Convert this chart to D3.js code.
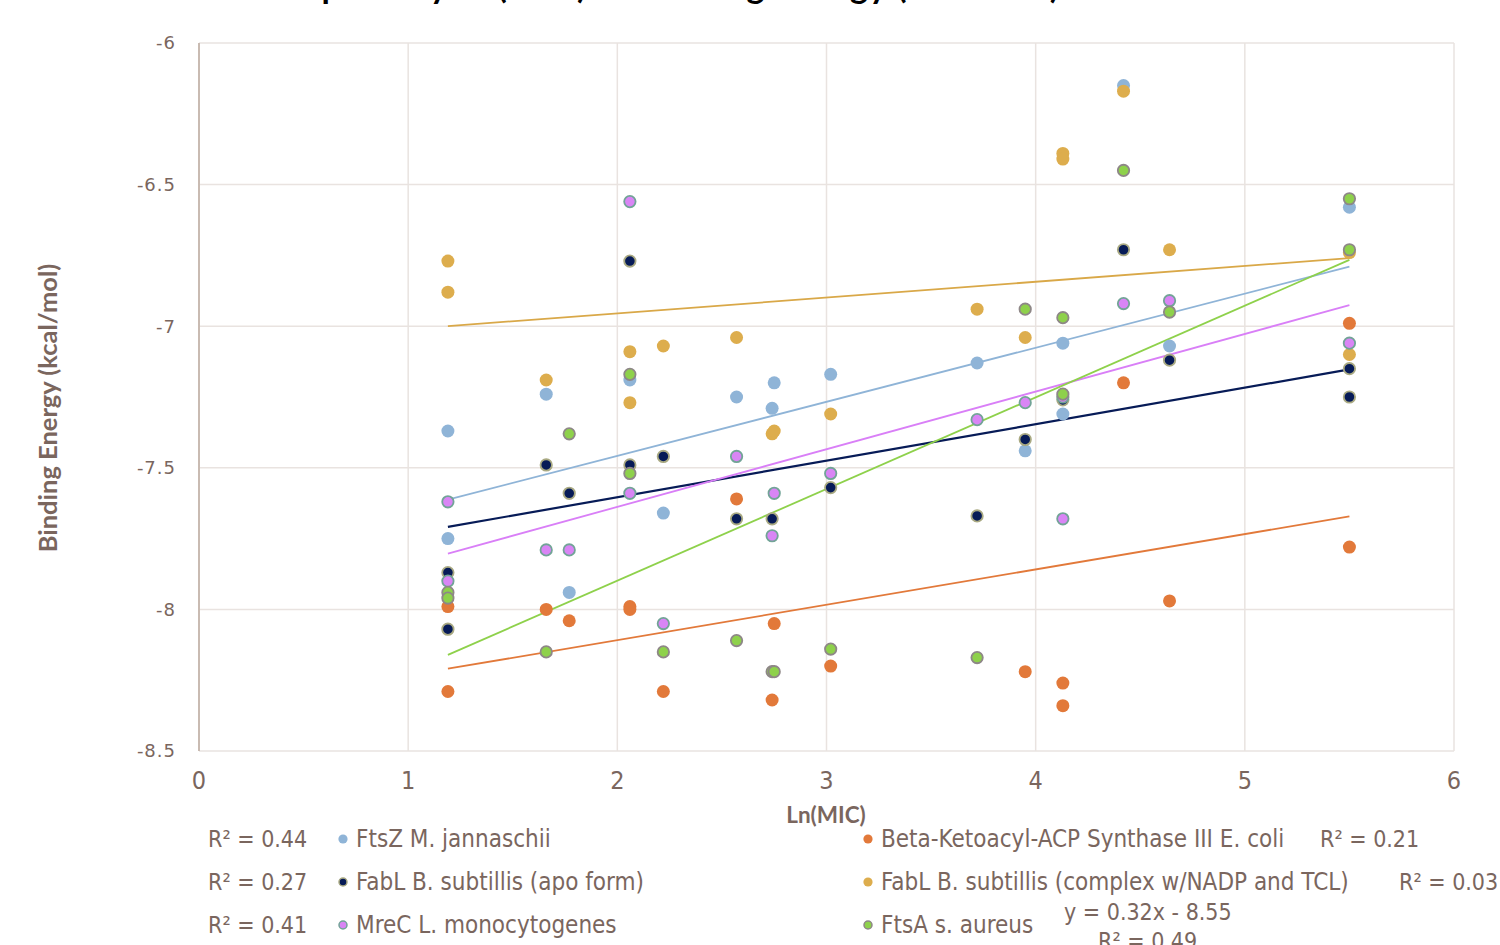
<!DOCTYPE html>
<html>
<head>
<meta charset="utf-8">
<script src="https://cdn.jsdelivr.net/npm/d3@7"></script>
<style>
  body { margin: 0; background: #fff; }
  svg { display: block; }
</style>
</head>
<body>
<div id="chart"></div>
<script>
// Ln(MIC) of each compound
const lnMIC = [1.19, 1.19, 1.66, 1.77, 2.06, 2.06, 2.22, 2.57, 2.74, 2.75, 3.02, 3.72, 3.95, 4.13, 4.13, 4.42, 4.64, 5.50, 5.50];

// binding energy (kcal/mol) per target, same order as lnMIC (null = point not visible)
const ftsZ      = [-7.37, -7.75, -7.24, -7.94, -7.19, null, -7.66, -7.25, -7.29, -7.20, -7.17, -7.13, -7.44, -7.06, -7.31, -6.15, -7.07, -6.58, null];
const betaKeto  = [-7.99, -8.29, -8.00, -8.04, -7.99, -8.00, -8.29, -7.61, -8.32, -8.05, -8.20, null, -8.22, -8.26, -8.34, -7.20, -7.97, -6.99, -7.78];
const fabLApo   = [-7.87, -8.07, -7.49, -7.59, -6.77, -7.49, -7.46, -7.68, -7.68, null, -7.57, -7.67, -7.40, -7.26, null, -6.73, -7.12, -7.15, -7.25];
const fabLCplx  = [-6.77, -6.88, -7.19, null, -7.09, -7.27, -7.07, -7.04, -7.38, -7.37, -7.31, -6.94, -7.04, -6.39, -6.41, -6.17, -6.73, -6.74, -7.10];
const mreC      = [-7.62, -7.90, -7.79, -7.79, -6.56, -7.59, -8.05, -7.46, -7.74, -7.59, -7.52, -7.33, -7.27, -7.25, -7.68, -6.92, -6.91, -7.06, null];
const ftsA      = [-7.94, -7.96, -8.15, -7.38, -7.17, -7.52, -8.15, -8.11, -8.22, -8.22, -8.14, -8.17, -6.94, -6.97, -7.24, -6.45, -6.95, -6.55, -6.73];

const seriesNames = [
  "FtsZ M. jannaschii",
  "Beta-Ketoacyl-ACP Synthase III E. coli",
  "FabL B. subtillis (apo form)",
  "FabL B. subtillis (complex w/NADP and TCL)",
  "MreC L. monocytogenes",
  "FtsA s. aureus"
];
const seriesValues = [ftsZ, betaKeto, fabLApo, fabLCplx, mreC, ftsA];

// linear trendlines as drawn on the chart
const trendSlope     = [0.191, 0.1248, 0.129, 0.0557, 0.2035, 0.3237];
const trendIntercept = [-7.840, -8.358, -7.862, -7.066, -8.045, -8.546];
const r2Labels = ["R² = 0.44", "R² = 0.21", "R² = 0.27", "R² = 0.03", "R² = 0.41", "R² = 0.49"];
const equationLabel = "y = 0.32x - 8.55";

const xTicks = [0, 1, 2, 3, 4, 5, 6];
const yTicks = [-6, -6.5, -7, -7.5, -8, -8.5];

// styles
const fills   = ["#8fb4d7", "#e2793a", "#071b57", "#ddad4d", "#d985f5", "#8ed14b"];
const strokes = [null, null, "#a9a982", null, "#72a497", "#8e8787"];
const lineCol = ["#8fb4d7", "#e2793a", "#071b57", "#d9a848", "#d97ff7", "#8ed14b"];
const textCol = "#7a665e";
const narrow = "'Liberation Sans Narrow', 'DejaVu Sans Condensed', 'Arial Narrow', sans-serif";

const W = 1500, H = 945;
const svg = d3.select('#chart').append('svg')
    .attr('width', W)
    .attr('height', H);

const x = d3.scaleLinear().domain([0, 6]).range([199, 1454]);
const y = d3.scaleLinear().domain([-8.5, -6]).range([751, 43]);

// title (mostly above the visible area)
svg.append('text')
    .attr('x', 7)
    .attr('y', -2)
    .attr('textLength', 1052)
    .attr('lengthAdjust', 'spacing')
    .attr('font-family', 'Lato, sans-serif')
    .attr('font-weight', 'bold')
    .attr('font-size', 34)
    .attr('fill', '#000')
    .text('Antibacterial Susceptibility Ln(MIC) vs Binding Energy (kcal/mol)');

// gridlines
svg.append('g')
  .selectAll('line')
  .data(yTicks)
  .join('line')
    .attr('x1', x(0)).attr('x2', x(6))
    .attr('y1', d => y(d)).attr('y2', d => y(d))
    .style('stroke', '#e9e3e0')
    .style('stroke-width', 1.5);

svg.append('g')
  .selectAll('line')
  .data(xTicks.slice(1))
  .join('line')
    .attr('x1', d => x(d)).attr('x2', d => x(d))
    .attr('y1', y(-6)).attr('y2', y(-8.5))
    .style('stroke', '#e9e3e0')
    .style('stroke-width', 1.5);

// y axis line
svg.append('line')
    .attr('x1', x(0)).attr('x2', x(0))
    .attr('y1', y(-6)).attr('y2', y(-8.5))
    .style('stroke', '#c9bbb2')
    .style('stroke-width', 2);

// tick labels
svg.append('g')
  .selectAll('text')
  .data(yTicks)
  .join('text')
    .attr('x', 176)
    .attr('y', d => y(d))
    .attr('dy', '0.36em')
    .attr('text-anchor', 'end')
    .attr('font-family', "'DejaVu Sans', sans-serif")
    .attr('font-size', 18)
    .attr('letter-spacing', 1)
    .attr('fill', textCol)
    .text(d => String(d));

svg.append('g')
  .selectAll('text')
  .data(xTicks)
  .join('text')
    .attr('x', d => x(d))
    .attr('y', 789)
    .attr('text-anchor', 'middle')
    .attr('font-family', narrow)
    .attr('font-size', 25)
    .attr('fill', textCol)
    .text(d => d);

// axis titles
svg.append('text')
    .attr('x', 826)
    .attr('y', 823)
    .attr('text-anchor', 'middle')
    .attr('font-family', 'Lato, sans-serif')
    .attr('font-weight', 'bold')
    .attr('font-size', 22.5)
    .attr('fill', textCol)
    .text('Ln(MIC)');

svg.append('text')
    .attr('transform', 'translate(57,408) rotate(-90)')
    .attr('text-anchor', 'middle')
    .attr('font-family', 'Lato, sans-serif')
    .attr('font-weight', 'bold')
    .attr('font-size', 25.5)
    .attr('fill', textCol)
    .text('Binding Energy (kcal/mol)');

// trendlines
const xExt = d3.extent(lnMIC);
const lineGen = d3.line().x(d => x(d[0])).y(d => y(d[1]));
seriesValues.forEach((vals, i) => {
  const pts = xExt.map(v => [v, trendSlope[i] * v + trendIntercept[i]]);
  svg.append('path')
      .attr('d', lineGen(pts))
      .style('fill', 'none')
      .style('stroke', lineCol[i])
      .style('stroke-width', i === 2 ? 2.2 : 1.8);
});

// points
seriesValues.forEach((vals, i) => {
  const pts = vals.map((v, j) => [lnMIC[j], v]).filter(d => d[1] !== null);
  svg.append('g')
    .selectAll('circle')
    .data(pts)
    .join('circle')
      .attr('cx', d => x(d[0]))
      .attr('cy', d => y(d[1]))
      .attr('r', strokes[i] ? 5.7 : 6.5)
      .style('fill', fills[i])
      .style('stroke', strokes[i] || 'none')
      .style('stroke-width', strokes[i] ? 1.8 : 0);
});

// legend
const legX = [343, 868];
const legY = [839, 882, 925];
seriesNames.forEach((name, i) => {
  const cx = legX[i % 2], cy = legY[Math.floor(i / 2)];
  svg.append('circle')
      .attr('cx', cx).attr('cy', cy)
      .attr('r', strokes[i] ? 4 : 4.6)
      .style('fill', fills[i])
      .style('stroke', strokes[i] || 'none')
      .style('stroke-width', strokes[i] ? 1.5 : 0);
  svg.append('text')
      .attr('x', cx + 13).attr('y', cy + 8)
      .attr('font-family', narrow)
      .attr('font-size', 24)
      .attr('fill', textCol)
      .text(name);
});

// R² labels (placed by hand on the original)
const r2Pos = [[208, 847], [1320, 847], [208, 890], [1399, 890], [208, 933], [1098, 949]];
r2Labels.forEach((t, i) => {
  svg.append('text')
      .attr('x', r2Pos[i][0]).attr('y', r2Pos[i][1])
      .attr('font-family', narrow)
      .attr('font-size', 23)
      .attr('fill', textCol)
      .text(t);
});
svg.append('text')
    .attr('x', 1064).attr('y', 920)
    .attr('font-family', narrow)
    .attr('font-size', 23)
    .attr('fill', textCol)
    .text(equationLabel);
</script>
</body>
</html>
